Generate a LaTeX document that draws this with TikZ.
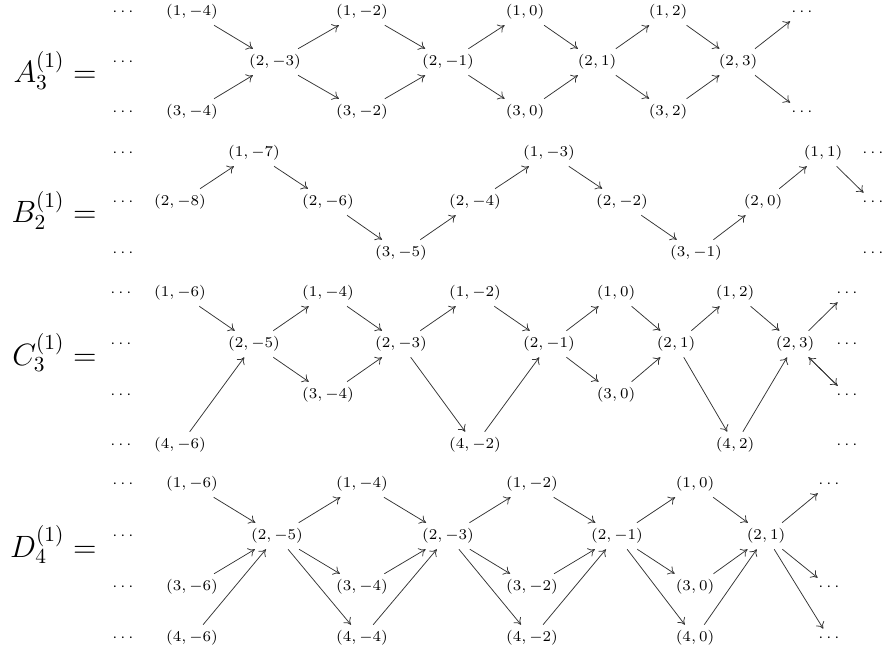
\documentclass[tikz,border=0pt]{standalone}
\usetikzlibrary{arrows.meta}
\begin{document}
\begin{tikzpicture}[x=0.4673pt,y=-0.4673pt,
  lbl/.style={font=\scriptsize, inner sep=2.5pt},
  eqlbl/.style={font=\Large, inner sep=0pt, anchor=base east},
  ar/.style={-{Computer Modern Rightarrow[length=3pt,width=4.4pt]}, line width=0.35pt, draw=black!80}]
\useasboundingbox (0,0) rectangle (886,654);
% ---------- A ----------
\node[eqlbl] (eqA) at (97,83) {$A_3^{(1)} =$};
\node[lbl] (aL1) at (123,12) {$\cdots$};
\node[lbl] (aL2) at (123,62) {$\cdots$};
\node[lbl] (aL3) at (123,112) {$\cdots$};
\node[lbl] (a1) at (192,12) {$(1,-4)$};
\node[lbl] (a3) at (192,112) {$(3,-4)$};
\node[lbl] (a2) at (275,62) {$(2,-3)$};
\node[lbl] (a4) at (362,12) {$(1,-2)$};
\node[lbl] (a5) at (362,112) {$(3,-2)$};
\node[lbl] (a6) at (448,62) {$(2,-1)$};
\node[lbl] (a7) at (525,12) {$(1,0)$};
\node[lbl] (a8) at (525,112) {$(3,0)$};
\node[lbl] (a9) at (597,62) {$(2,1)$};
\node[lbl] (a10) at (668,12) {$(1,2)$};
\node[lbl] (a11) at (668,112) {$(3,2)$};
\node[lbl] (a12) at (738,62) {$(2,3)$};
\node[lbl] (aR1) at (802,12) {$\cdots$};
\node[lbl] (aR3) at (802,112) {$\cdots$};
\foreach \s/\t in {a1/a2,a3/a2,a2/a4,a2/a5,a4/a6,a5/a6,a6/a7,a6/a8,a7/a9,a8/a9,a9/a10,a9/a11,a10/a12,a11/a12,a12/aR1,a12/aR3}
  \draw[ar] (\s) -- (\t);
% ---------- B ----------
\node[eqlbl] (eqB) at (97,223) {$B_2^{(1)} =$};
\node[lbl] (bL1) at (123,153) {$\cdots$};
\node[lbl] (bL2) at (123,202) {$\cdots$};
\node[lbl] (bL3) at (123,253) {$\cdots$};
\node[lbl] (b1) at (180,202) {$(2,-8)$};
\node[lbl] (b2) at (254,153) {$(1,-7)$};
\node[lbl] (b3) at (328,202) {$(2,-6)$};
\node[lbl] (b4) at (401,253) {$(3,-5)$};
\node[lbl] (b5) at (475,202) {$(2,-4)$};
\node[lbl] (b6) at (549,153) {$(1,-3)$};
\node[lbl] (b7) at (622,202) {$(2,-2)$};
\node[lbl] (b8) at (696,253) {$(3,-1)$};
\node[lbl] (b9) at (763,202) {$(2,0)$};
\node[lbl] (b10) at (823,153) {$(1,1)$};
\node[lbl] (bR1) at (873,153) {$\cdots$};
\node[lbl] (bR2) at (873,202) {$\cdots$};
\node[lbl] (bR3) at (873,253) {$\cdots$};
\foreach \s/\t in {b1/b2,b2/b3,b3/b4,b4/b5,b5/b6,b6/b7,b7/b8,b8/b9,b9/b10,b10/bR2}
  \draw[ar] (\s) -- (\t);
% ---------- C ----------
\node[eqlbl] (eqC) at (97,365) {$C_3^{(1)} =$};
\node[lbl] (cL1) at (121,293) {$\cdots$};
\node[lbl] (cL2) at (121,344) {$\cdots$};
\node[lbl] (cL3) at (121,395) {$\cdots$};
\node[lbl] (cL4) at (121,445) {$\cdots$};
\node[lbl] (c1) at (180,293) {$(1,-6)$};
\node[lbl] (c2) at (180,445) {$(4,-6)$};
\node[lbl] (c3) at (254,344) {$(2,-5)$};
\node[lbl] (c4) at (328,293) {$(1,-4)$};
\node[lbl] (c5) at (328,395) {$(3,-4)$};
\node[lbl] (c6) at (401,344) {$(2,-3)$};
\node[lbl] (c7) at (475,293) {$(1,-2)$};
\node[lbl] (c8) at (475,445) {$(4,-2)$};
\node[lbl] (c9) at (549,344) {$(2,-1)$};
\node[lbl] (c10) at (616,293) {$(1,0)$};
\node[lbl] (c11) at (616,395) {$(3,0)$};
\node[lbl] (c12) at (676,344) {$(2,1)$};
\node[lbl] (c13) at (735,293) {$(1,2)$};
\node[lbl] (c14) at (735,445) {$(4,2)$};
\node[lbl] (c15) at (795,344) {$(2,3)$};
\node[lbl] (cR1) at (847,293) {$\cdots$};
\node[lbl] (cR2) at (847,344) {$\cdots$};
\node[lbl] (cR3) at (847,395) {$\cdots$};
\node[lbl] (cR4) at (847,445) {$\cdots$};
\foreach \s/\t in {c1/c3,c2/c3,c3/c4,c3/c5,c4/c6,c5/c6,c6/c7,c6/c8,c7/c9,c8/c9,c9/c10,c9/c11,c10/c12,c11/c12,c12/c13,c12/c14,c13/c15,c14/c15,c15/cR1,c15/cR3,cR3/c15}
  \draw[ar] (\s) -- (\t);
% ---------- D ----------
\node[eqlbl] (eqD) at (97,557) {$D_4^{(1)} =$};
\node[lbl] (dL1) at (123,484) {$\cdots$};
\node[lbl] (dL2) at (123,536) {$\cdots$};
\node[lbl] (dL3) at (123,587) {$\cdots$};
\node[lbl] (dL4) at (123,638) {$\cdots$};
\node[lbl] (d1) at (192,484) {$(1,-6)$};
\node[lbl] (d2) at (192,587) {$(3,-6)$};
\node[lbl] (d3) at (192,638) {$(4,-6)$};
\node[lbl] (d4) at (277,536) {$(2,-5)$};
\node[lbl] (d5) at (362,484) {$(1,-4)$};
\node[lbl] (d6) at (362,587) {$(3,-4)$};
\node[lbl] (d7) at (362,638) {$(4,-4)$};
\node[lbl] (d8) at (448,536) {$(2,-3)$};
\node[lbl] (d9) at (532,484) {$(1,-2)$};
\node[lbl] (d10) at (532,587) {$(3,-2)$};
\node[lbl] (d11) at (532,638) {$(4,-2)$};
\node[lbl] (d12) at (617,536) {$(2,-1)$};
\node[lbl] (d13) at (695,484) {$(1,0)$};
\node[lbl] (d14) at (695,587) {$(3,0)$};
\node[lbl] (d15) at (695,638) {$(4,0)$};
\node[lbl] (d16) at (766,536) {$(2,1)$};
\node[lbl] (dR1) at (829,484) {$\cdots$};
\node[lbl] (dR3) at (829,587) {$\cdots$};
\node[lbl] (dR4) at (829,638) {$\cdots$};
\foreach \s/\t in {d1/d4,d2/d4,d3/d4,d4/d5,d4/d6,d4/d7,d5/d8,d6/d8,d7/d8,d8/d9,d8/d10,d8/d11,d9/d12,d10/d12,d11/d12,d12/d13,d12/d14,d12/d15,d13/d16,d14/d16,d15/d16,d16/dR1,d16/dR3,d16/dR4}
  \draw[ar] (\s) -- (\t);
\end{tikzpicture}
\end{document}
